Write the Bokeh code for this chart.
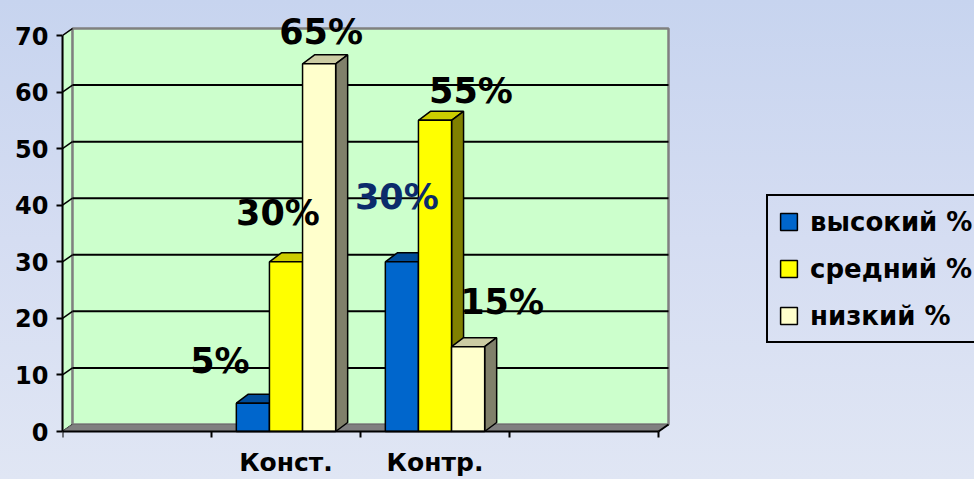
from bokeh.plotting import figure
from bokeh.models import Range1d, FixedTicker, Legend, LegendItem
from bokeh.core.properties import value
from bokeh.embed import file_html
from bokeh.resources import INLINE

# ---------------- data ----------------
categories = ["", "Конст.", "Контр.", ""]
bar_categories = ["Конст.", "Контр."]
series_names = ["высокий %", "средний %", "низкий %"]
vysokiy = [5, 30]
sredniy = [30, 55]
nizkiy = [65, 15]
y_ticks = [0, 10, 20, 30, 40, 50, 60, 70]

# ---------------- style ----------------
front_cols = ["#0066CC", "#FFFF00", "#FFFFCC"]
top_cols = ["#004C99", "#CCCC00", "#CCCCA3"]
side_cols = ["#003C7A", "#808000", "#80806A"]
label_colors = [["black", "#0B2B6B"], ["black", "black"], ["black", "black"]]
label_dx = [[-33, -5], [-8, 36], [2, 34]]
label_dy = [[-42, -65], [-49, -29], [-32, -45]]

W, H = 974, 479
LEFT = 62
X_PX = 149.0
Y_PX = (431 - 35) / 70.0
BASE = 431  # pixel row of y=0 inside figure
FONT = value("DejaVu Sans")

x_end = (W - LEFT) / X_PX
y_end = BASE / Y_PX
y_start = -(H - BASE) / Y_PX

p = figure(width=W, height=H, output_backend="svg", toolbar_location=None,
           x_range=Range1d(0, x_end), y_range=Range1d(y_start, y_end),
           x_axis_location=None, y_axis_location="left",
           min_border_left=LEFT, min_border_right=0, min_border_top=0, min_border_bottom=0)
p.background_fill_alpha = 0
p.border_fill_alpha = 0
p.outline_line_color = None
p.grid.visible = False
p.styles = {"background": "linear-gradient(180deg, #C7D4EF 0%, #D5DDF2 50%, #E0E6F4 100%)"}

ax = p.yaxis[0]
ax.ticker = FixedTicker(ticks=y_ticks)
ax.bounds = (y_ticks[0], y_ticks[-1])
ax.axis_line_color = "black"
ax.axis_line_width = 2
ax.major_tick_line_color = "black"
ax.major_tick_line_width = 2
ax.major_tick_out = 6
ax.major_tick_in = 0
ax.minor_tick_line_color = None
ax.major_label_standoff = 8
ax.major_label_text_font = "DejaVu Sans"
ax.major_label_text_font_style = "bold"
ax.major_label_text_font_size = "24px"
ax.major_label_text_color = "black"

n = len(categories)
ymax = y_ticks[-1]
wdx = 10 / X_PX
wdy = 7 / Y_PX
bdx = 12 / X_PX
bdy = 9 / Y_PX

# side wall
p.patch([0, 0, wdx, wdx], [0, ymax, ymax + wdy, wdy], fill_color="#CCFFCC",
        line_color="#808080", line_width=1.5)
# back wall
p.quad(left=wdx, right=n + wdx, bottom=wdy, top=ymax + wdy, fill_color="#CCFFCC",
       line_color="#808080", line_width=2.5)
# gridlines on back wall
gl = y_ticks[1:-1]
p.segment(x0=[wdx] * len(gl), y0=[v + wdy for v in gl], x1=[n + wdx] * len(gl),
          y1=[v + wdy for v in gl], line_color="black", line_width=2)
# diagonal ticks on side wall
p.segment(x0=[0] * len(y_ticks), y0=y_ticks, x1=[wdx] * len(y_ticks),
          y1=[v + wdy for v in y_ticks], line_color="black", line_width=1.5)
# floor
p.patch([0, n, n + wdx, wdx], [0, 0, wdy, wdy], fill_color="#808080",
        line_color="#707070", line_width=1)
p.segment(x0=[n], y0=[0], x1=[n + wdx], y1=[wdy], line_color="black", line_width=2)

# bars
BAR_W = 2 / 9
series = [vysokiy, sredniy, nizkiy]
front_renderers = []
centers = []
for s, vals in enumerate(series):
    x0 = [categories.index(c) + 0.5 + (s - 1.5) * BAR_W for c in bar_categories]
    x1 = [a + BAR_W for a in x0]
    centers.append([a + BAR_W / 2 for a in x0])
    p.patches([[a, b, b + bdx, a + bdx] for a, b in zip(x0, x1)],
              [[v, v, v + bdy, v + bdy] for v in vals],
              fill_color=top_cols[s], line_color="black", line_width=1.5)
    p.patches([[b, b, b + bdx, b + bdx] for b in x1],
              [[0, v, v + bdy, bdy] for v in vals],
              fill_color=side_cols[s], line_color="black", line_width=1.5)
    r = p.quad(left=x0, right=x1, bottom=[0] * len(vals), top=vals,
               fill_color=front_cols[s], line_color="black", line_width=1.5)
    front_renderers.append(r)

# x axis line and ticks
p.segment(x0=[0], y0=[0], x1=[n], y1=[0], line_color="black", line_width=2)
p.segment(x0=list(range(n + 1)), y0=[0] * (n + 1), x1=list(range(n + 1)),
          y1=[-6 / Y_PX] * (n + 1), line_color="black", line_width=2)

# category labels
p.text(x=[categories.index(c) + 0.5 for c in bar_categories], y=[0] * len(bar_categories),
       text=bar_categories, y_offset=31, text_align="center", text_baseline="middle",
       text_font=FONT, text_font_style="bold", text_font_size="25px", text_color="black")

# data labels
for s, vals in enumerate(series):
    p.text(x=centers[s], y=vals, text=[f"{v}%" for v in vals],
           x_offset=label_dx[s], y_offset=label_dy[s],
           text_align="center", text_baseline="middle", text_font=FONT,
           text_font_style="bold", text_font_size="35px", text_color=label_colors[s])

legend = Legend(items=[LegendItem(label=nm, renderers=[r]) for nm, r in zip(series_names, front_renderers)],
                location=(704, 136), margin=0, padding=10, spacing=16,
                glyph_width=21, glyph_height=21, label_height=31, label_standoff=11,
                label_text_font="DejaVu Sans", label_text_font_style="bold",
                label_text_font_size="26px", label_text_color="black",
                border_line_color="black", border_line_width=2, border_line_alpha=1.0,
                background_fill_alpha=0)
p.add_layout(legend)

open("out.html", "w").write(file_html(p, INLINE))
